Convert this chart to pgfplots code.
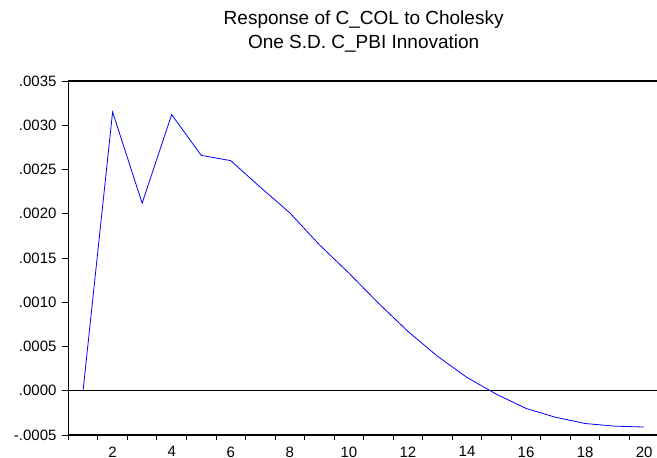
\documentclass[border=0pt]{standalone}
\usepackage{pgfplots}
\pgfplotsset{compat=1.18}
\usepackage{fontspec}
\setmainfont{Liberation Sans}
\begin{document}
\begin{tikzpicture}
\begin{axis}[
    at={(0,0)}, anchor=south west,
    scale only axis,
    width=590.7pt, height=354pt,
    xmin=0.5, xmax=20.5,
    ymin=-0.0005, ymax=0.0035,
    axis line style={black, line width=1.2pt},
    tick style={black, line width=0.9pt},
    tick align=outside,
    xtick pos=bottom, ytick pos=left,
    xtick={2,4,...,20},
    xticklabels={2,4,6,8,10,12,14,16,18,20},
    major x tick style={draw=none},
    minor xtick={0.5,1.5,...,20.5},
    minor tick length=5pt,
    ytick={-0.0005,0,0.0005,0.001,0.0015,0.002,0.0025,0.003,0.0035},
    yticklabels={-.0005,.0000,.0005,.0010,.0015,.0020,.0025,.0030,.0035},
    major tick length=6.6pt,
    /pgf/number format/assume math mode=true,
    ticklabel style={font=\fontsize{15}{18}\selectfont},
    xticklabel style={yshift=-1.5pt},
    yticklabel style={xshift=-1.7pt},
    scaled y ticks=false,
    clip=false,
]
\addplot[black, line width=0.9pt, forget plot] coordinates {(0.5,0) (20.5,0)};
\addplot[blue, line width=0.8pt] coordinates {
    (1,0)
    (2,0.00315)
    (3,0.00212)
    (4,0.00312)
    (5,0.00266)
    (6,0.00260)
    (7,0.00230)
    (8,0.00201)
    (9,0.00165)
    (10,0.00133)
    (11,0.00099)
    (12,0.00067)
    (13,0.00039)
    (14,0.00015)
    (15,-0.00004)
    (16,-0.00020)
    (17,-0.00030)
    (18,-0.00037)
    (19,-0.00040)
    (20,-0.00041)
};
\end{axis}
% title, two lines
\node[font=\fontsize{19}{23}\selectfont, anchor=base] at (295.35pt,410pt) {Response of C\_COL to Cholesky};
\node[font=\fontsize{19}{23}\selectfont, anchor=base] at (295.35pt,386pt) {One S.D. C\_PBI Innovation};
\pgfresetboundingbox
\path[use as bounding box] (-68.3pt,-23pt) rectangle (588.7pt,435pt);
\end{tikzpicture}
\end{document}
